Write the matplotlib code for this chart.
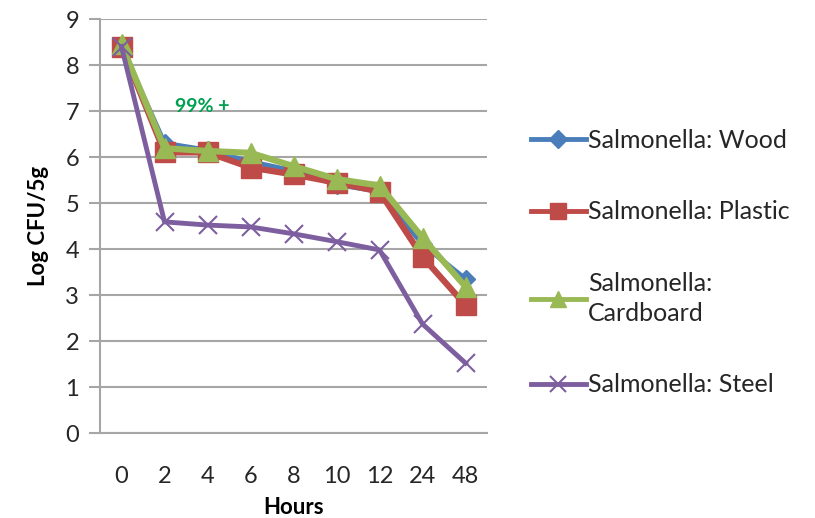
import matplotlib
matplotlib.use("Agg")
import matplotlib.pyplot as plt
from matplotlib.lines import Line2D

plt.rcParams['font.family'] = ['Lato', 'DejaVu Sans']

hours = ["0", "2", "4", "6", "8", "10", "12", "24", "48"]
wood = [8.40, 6.30, 6.15, 5.90, 5.70, 5.40, 5.25, 4.10, 3.35]
plastic = [8.40, 6.10, 6.10, 5.77, 5.62, 5.44, 5.25, 3.83, 2.78]
cardboard = [8.45, 6.19, 6.13, 6.09, 5.80, 5.52, 5.38, 4.25, 3.18]
steel = [8.40, 4.59, 4.52, 4.48, 4.33, 4.16, 3.98, 2.37, 1.52]

labels = ["Salmonella: Wood", "Salmonella: Plastic",
          "Salmonella:\nCardboard", "Salmonella: Steel"]
colors = ["#4A7EBB", "#BE4B48", "#98B954", "#7D5FA0"]

fig = plt.figure(figsize=(8.15, 5.18), dpi=100)
ax = fig.add_axes([100 / 815, 1 - 433 / 518, 387 / 815, 414 / 518])

x = list(range(len(hours)))
ax.plot(x, wood, color=colors[0], lw=3.5, marker="D", ms=9, zorder=3)
ax.plot(x, plastic, color=colors[1], lw=4.5, marker="s", ms=14, zorder=4)
ax.plot(x, cardboard, color=colors[2], lw=4.5, marker="^", ms=14, zorder=5)
ax.plot(x, steel, color=colors[3], lw=3.5, marker="x", ms=13, mew=1.5, zorder=6)

ax.set_xlim(-0.5, len(hours) - 0.5)
ax.set_ylim(0, 9)
ax.set_yticks(range(10))
ax.set_xticks(x)
ax.set_xticklabels(hours)
ax.grid(axis="y", color="#A6A6A6", lw=1.5)
ax.set_axisbelow(True)

for s in ["top", "right"]:
    ax.spines[s].set_visible(False)
ax.spines["left"].set_color("#A6A6A6")
ax.spines["left"].set_linewidth(1.5)
ax.spines["bottom"].set_color("#A6A6A6")
ax.spines["bottom"].set_linewidth(1.5)

ax.tick_params(axis="y", length=8, width=1.5, color="#A6A6A6",
               labelsize=17, labelcolor="#262626", pad=7)
ax.tick_params(axis="x", length=0, labelsize=17, labelcolor="#262626", pad=24)

ax.set_xlabel("Hours", fontsize=16, fontweight="bold", labelpad=7)
ax.set_ylabel("Log CFU/5g", fontsize=16, fontweight="bold", labelpad=12)

ax.text(1.25, 7.1, "99% +", color="#00A050", fontsize=14, fontweight="bold",
        ha="left", va="center")

handles = [
    Line2D([], [], color=colors[0], lw=3.5, marker="D", ms=9),
    Line2D([], [], color=colors[1], lw=3.5, marker="s", ms=12),
    Line2D([], [], color=colors[2], lw=3.5, marker="^", ms=12),
    Line2D([], [], color=colors[3], lw=3.5, marker="x", ms=12, mew=1.5),
]
leg = fig.legend(handles, labels, loc="upper left",
                 bbox_to_anchor=(508 / 815, 1 - 106 / 518),
                 frameon=False, fontsize=18, handlelength=2.2,
                 handletextpad=0.1, labelspacing=1.95, labelcolor="#262626")
for t in leg.get_texts():
    t.set_linespacing(1.35)
    t.set_multialignment("left")

fig.savefig("out.png", dpi=100)
